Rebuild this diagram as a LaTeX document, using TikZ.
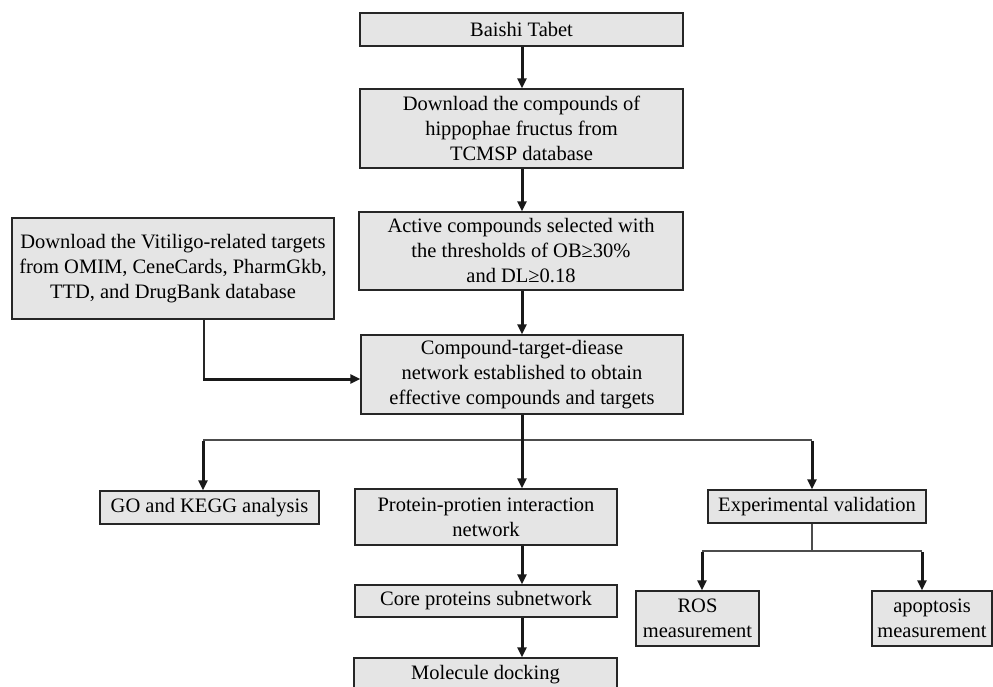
\documentclass[tikz,border=0pt]{standalone}
\usepackage{fontspec}
\setmainfont{Liberation Serif}
\usetikzlibrary{arrows.meta}

\begin{document}
\begin{tikzpicture}[x=1pt, y=-1pt,
  box/.style={draw=black!85, fill=black!10, line width=1.3pt, align=center,
              inner sep=0pt, font=\fontsize{20.5}{25}\selectfont},
  arrow/.style={-{Triangle[length=10pt,width=9pt]}, line width=3pt, black!90},
  branch/.style={line width=1.6pt, black!70},
  thinline/.style={line width=1.3pt, black!85},
]
\clip (0,0) rectangle (993,686);

% Main column
\node[box, minimum width=323pt, minimum height=33pt] (base) at (521.5,29.5) {Baishi Tabet};
\node[box, minimum width=323pt, minimum height=79pt] (dlcomp) at (521.5,128.5)
  {Download the compounds of\\hippophae fructus from\\TCMSP database};
\node[box, minimum width=324pt, minimum height=78pt] (active) at (521,251)
  {Active compounds selected with\\the thresholds of OB≥30\%\\and DL≥0.18};
\node[box, minimum width=322pt, minimum height=79pt] (ctd) at (522,374.5)
  {Compound-target-diease\\network established to obtain\\effective compounds and targets};

\draw[arrow] (base.south -| 522,0) -- (dlcomp.north -| 522,0);
\draw[arrow] (dlcomp.south -| 522,0) -- (active.north -| 522,0);
\draw[arrow] (active.south -| 522,0) -- (ctd.north -| 522,0);

% Disease targets
\node[box, minimum width=322pt, minimum height=101pt] (vit) at (173,268.5)
  {Download the Vitiligo-related targets\\from OMIM, CeneCards, PharmGkb,\\TTD, and DrugBank database};
\coordinate (vtbend) at (204,379);
\draw[thinline] (vit.south -| vtbend) -- (vtbend);
\draw[arrow] ([xshift=-0.6pt]vtbend) -- (ctd.west |- vtbend);

% Downstream analyses
\node[box, minimum width=219pt, minimum height=33pt] (go) at (209.5,507.5) {GO and KEGG analysis};
\node[box, minimum width=262pt, minimum height=56pt] (ppi) at (486,517)
  {Protein-protien interaction\\network};
\node[box, minimum width=262pt, minimum height=32pt] (core) at (486,601) {Core proteins subnetwork};
\node[box, minimum width=263pt, minimum height=33pt] (dock) at (485.5,674.5) {Molecule docking};
\node[box, minimum width=218pt, minimum height=33pt] (exp) at (817,506.5) {Experimental validation};

\coordinate (splitL) at (203,440);
\coordinate (splitR) at (812,440);
\draw[branch] (splitL) -- (splitR);
\draw[arrow] ([yshift=-0.8pt]splitL) -- (splitL |- go.north);
\draw[arrow] (ctd.south -| 522,0) -- (ppi.north -| 522,0);
\draw[arrow] ([yshift=-0.8pt]splitR) -- (splitR |- exp.north);
\draw[arrow] (ppi.south -| 522,0) -- (core.north -| 522,0);
\draw[arrow] (core.south -| 522,0) -- (dock.north -| 522,0);

% Experimental branch
\node[box, minimum width=123pt, minimum height=55pt] (ros) at (697.5,618.5) {ROS\\measurement};
\node[box, minimum width=120pt, minimum height=55pt] (apo) at (932,618.5) {apoptosis\\measurement};

\coordinate (expL) at (702,551);
\coordinate (expR) at (922,551);
\draw[branch] (splitR |- exp.south) -- (splitR |- expL);
\draw[branch] (expL) -- (expR);
\draw[arrow] ([yshift=-0.8pt]expL) -- (expL |- ros.north);
\draw[arrow] ([yshift=-0.8pt]expR) -- (expR |- apo.north);

\end{tikzpicture}
\end{document}
